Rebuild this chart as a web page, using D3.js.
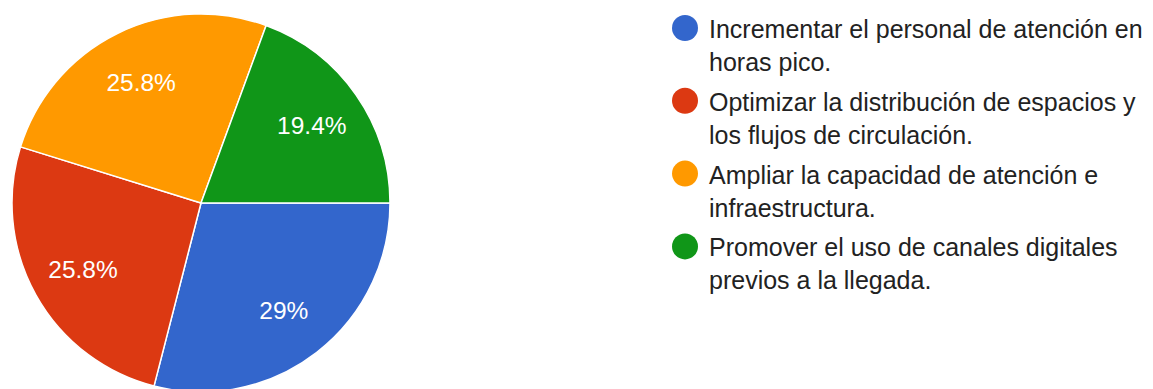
<!DOCTYPE html>
<html>
<head>
<meta charset="utf-8">
<script src="https://cdn.jsdelivr.net/npm/d3@7"></script>
<style>
  html, body { margin: 0; padding: 0; background: #fff; }
  svg { display: block; }
</style>
</head>
<body>
<svg id="chart" width="1153" height="389"></svg>
<script>
// Survey answers and their shares (percent)
const categories = [
  "Incrementar el personal de atención en horas pico.",
  "Optimizar la distribución de espacios y los flujos de circulación.",
  "Ampliar la capacidad de atención e infraestructura.",
  "Promover el uso de canales digitales previos a la llegada."
];
const shares = [29, 25.8, 25.8, 19.4];
const colors = ["#3366cc", "#dc3912", "#ff9900", "#109618"];

const W = 1153, H = 389;
const cx = 201, cy = 203, radius = 189;
const fontFamily = "'Liberation Sans', Arial, sans-serif";

const svg = d3.select("#chart");
const data = categories.map((c, i) => ({ name: c, value: shares[i], color: colors[i] }));

// Slices run clockwise starting at 3 o'clock
const pie = d3.pie()
  .sort(null)
  .value(d => d.value)
  .startAngle(Math.PI / 2)
  .endAngle(Math.PI / 2 + 2 * Math.PI);

const arc = d3.arc().innerRadius(0).outerRadius(radius);
const labelArc = d3.arc().innerRadius(radius * 0.715).outerRadius(radius * 0.715);

const g = svg.append("g").attr("transform", `translate(${cx},${cy})`);
const arcs = pie(data);

g.selectAll("path.slice")
  .data(arcs)
  .join("path")
  .attr("class", "slice")
  .attr("d", arc)
  .attr("fill", d => d.data.color)
  .attr("stroke", "#ffffff")
  .attr("stroke-width", 1.5);

const fmt = d3.format(".1~f");
g.selectAll("text.pct")
  .data(arcs)
  .join("text")
  .attr("class", "pct")
  .attr("transform", d => `translate(${labelArc.centroid(d)})`)
  .attr("text-anchor", "middle")
  .attr("dy", "0.36em")
  .attr("font-family", fontFamily)
  .attr("font-size", 24.5)
  .attr("fill", "#ffffff")
  .text(d => fmt(d.data.value) + "%");

// Legend with wrapped entries
const legendX = 685, textX = 709, maxTextW = 442;
const firstY = 28, itemStep = 72.8, lineStep = 33;

const legend = svg.append("g");
data.forEach((d, i) => {
  const y = firstY + i * itemStep;
  legend.append("circle")
    .attr("cx", legendX).attr("cy", y).attr("r", 13)
    .attr("fill", d.color);

  const text = legend.append("text")
    .attr("x", textX)
    .attr("font-family", fontFamily)
    .attr("font-size", 25)
    .attr("fill", "#222222");

  const words = d.name.split(" ");
  let line = [];
  let lineNo = 0;
  let tspan = text.append("tspan").attr("x", textX).attr("y", y + 10);
  words.forEach(w => {
    line.push(w);
    tspan.text(line.join(" "));
    if (tspan.node().getComputedTextLength() > maxTextW && line.length > 1) {
      line.pop();
      tspan.text(line.join(" "));
      line = [w];
      lineNo++;
      tspan = text.append("tspan").attr("x", textX).attr("y", y + 10 + lineNo * lineStep).text(w);
    }
  });
});
</script>
</body>
</html>
